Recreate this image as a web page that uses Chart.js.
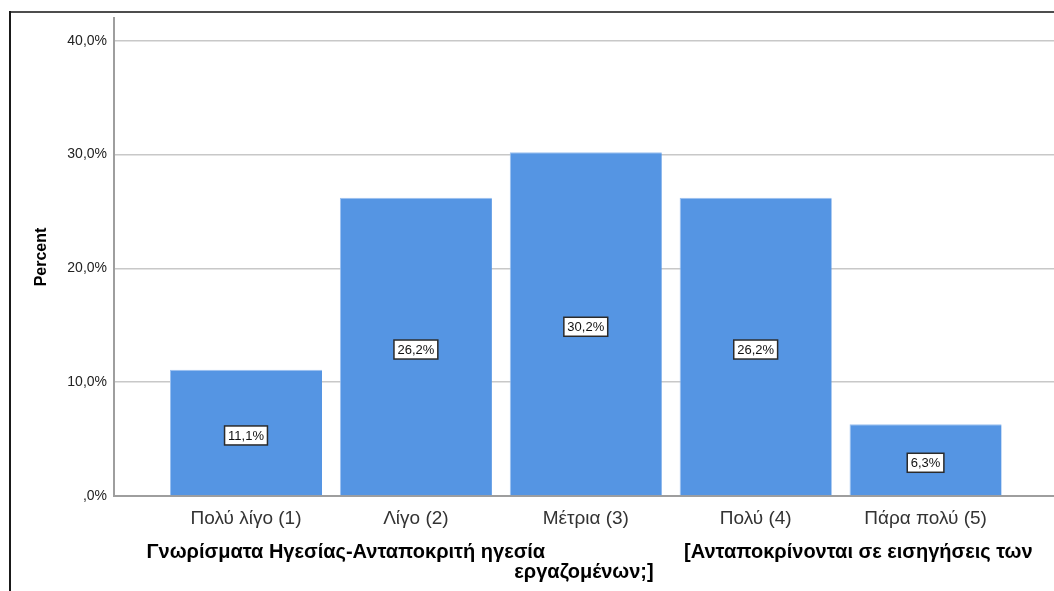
<!DOCTYPE html>
<html>
<head>
<meta charset="utf-8">
<script src="https://cdn.jsdelivr.net/npm/chart.js@4/dist/chart.umd.min.js"></script>
<style>
  html, body { margin: 0; padding: 0; background: #fff; }
  canvas { display: block; }
</style>
</head>
<body>
<canvas id="chart" width="1054" height="591"></canvas>
<script>
const categories = ['Πολύ λίγο (1)', 'Λίγο (2)', 'Μέτρια (3)', 'Πολύ (4)', 'Πάρα πολύ (5)'];
const percents = [11.1, 26.2, 30.2, 26.2, 6.3];
const yTicks = [0, 10, 20, 30, 40];
const xTitle = [
    ' '.repeat(2) + 'Γνωρίσματα Ηγεσίας-Ανταποκριτή ηγεσία' + ' '.repeat(25) + '[Ανταποκρίνονται σε εισηγήσεις των',
    'εργαζομένων;]'
];
const yTitle = 'Percent';

const FONT = "'Liberation Sans', Arial, sans-serif";

function pct(v) {
    const s = v.toFixed(1).replace('.', ',');
    return (v === 0 ? s.replace(/^0/, '') : s) + '%';
}

// outer frame (top and left edges)
const framePlugin = {
    id: 'frame',
    beforeDraw(chart) {
        const ctx = chart.ctx;
        ctx.save();
        ctx.fillStyle = '#4d4d4d';
        ctx.fillRect(9, 11, chart.width - 9, 2);
        ctx.fillStyle = '#1a1a1a';
        ctx.fillRect(9, 11, 2, chart.height - 11);
        ctx.restore();
    }
};

// boxed value labels in the middle of each bar
const boxLabels = {
    id: 'boxLabels',
    afterDatasetsDraw(chart) {
        const ctx = chart.ctx;
        const meta = chart.getDatasetMeta(0);
        ctx.save();
        ctx.font = '13px ' + FONT;
        ctx.textAlign = 'center';
        ctx.textBaseline = 'middle';
        meta.data.forEach((bar, i) => {
            const text = pct(percents[i]);
            const cx = bar.x;
            const cy = (bar.y + bar.base) / 2 + 3;
            const w = ctx.measureText(text).width + 7;
            const h = 19;
            ctx.fillStyle = '#ffffff';
            ctx.fillRect(cx - w / 2, cy - h / 2, w, h);
            ctx.strokeStyle = '#2b2b2b';
            ctx.lineWidth = 1.5;
            ctx.strokeRect(cx - w / 2, cy - h / 2, w, h);
            ctx.fillStyle = '#111';
            ctx.fillText(text, cx, cy + 1);
        });
        ctx.restore();
    }
};

new Chart(document.getElementById('chart'), {
    type: 'bar',
    data: {
        datasets: [{
            data: percents.map((v, i) => ({ x: i + 1, y: v })),
            backgroundColor: '#5595e3',
            borderColor: '#9cc1f0',
            borderWidth: { top: 1, left: 1, right: 0, bottom: 0 },
            categoryPercentage: 1,
            barPercentage: 0.895
        }]
    },
    options: {
        responsive: false,
        animation: false,
        layout: { padding: { top: 18, left: 0, right: 0, bottom: 0 } },
        plugins: {
            legend: { display: false },
            tooltip: { enabled: false }
        },
        scales: {
            x: {
                type: 'linear',
                min: 0.223,
                max: 5.756,
                offset: false,
                grid: { display: false, drawTicks: false, offset: false },
                border: { display: true, color: '#9e9e9e', width: 2 },
                afterBuildTicks: axis => {
                    axis.ticks = categories.map((c, i) => ({ value: i + 1 }));
                },
                afterFit: axis => { axis.height = 95; },
                ticks: {
                    padding: 11,
                    maxRotation: 0,
                    autoSkip: false,
                    color: '#333',
                    font: { family: FONT, size: 19 },
                    callback: v => categories[v - 1]
                },
                title: {
                    display: true,
                    text: xTitle,
                    color: '#000',
                    font: { family: FONT, size: 20, weight: 'bold', lineHeight: '20px' },
                    padding: { top: 0, bottom: 9 }
                }
            },
            y: {
                min: 0,
                max: 42,
                grid: { color: '#c8c8c8', lineWidth: 1.5, drawTicks: false },
                border: { display: true, color: '#9e9e9e', width: 2 },
                afterBuildTicks: axis => {
                    axis.ticks = yTicks.map(v => ({ value: v }));
                },
                afterFit: axis => { axis.width = 114; },
                ticks: {
                    padding: 7,
                    color: '#222',
                    font: { family: FONT, size: 14 },
                    callback: v => pct(v)
                },
                title: {
                    display: true,
                    text: yTitle,
                    color: '#000',
                    font: { family: FONT, size: 16, weight: 'bold', lineHeight: '18px' },
                    padding: { top: 33, bottom: 0 }
                }
            }
        }
    },
    plugins: [framePlugin, boxLabels]
});
</script>
</body>
</html>
